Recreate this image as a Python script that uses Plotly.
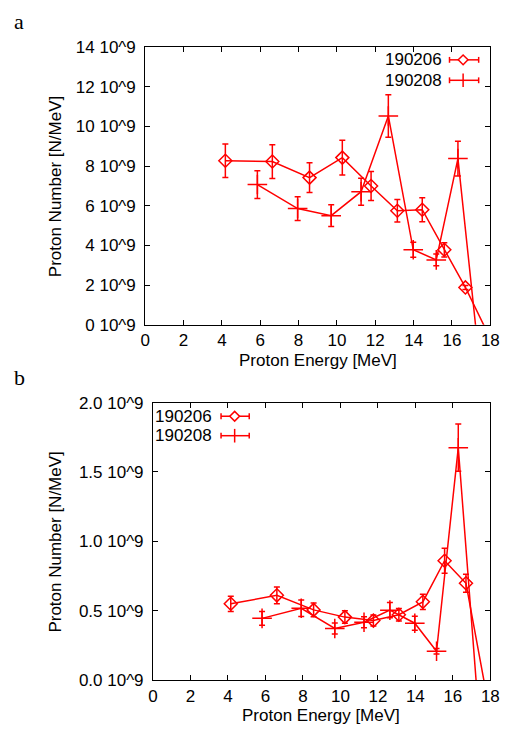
import plotly.graph_objects as go

# the page body has an 8px margin: figure pixel = window pixel - 8
W, H = 503, 723
OFF = 8
RED = "#ff0000"
FONT = "Liberation Sans, Arial, sans-serif"
FS = 17

# ---- panel a (units of 10^9 N/MeV) ----
a_e_190206 = [4.18, 6.63, 8.57, 10.28, 11.78, 13.15, 14.45, 15.6, 16.7, 17.9]
a_n_190206 = [8.27, 8.23, 7.42, 8.43, 7.0, 5.75, 5.8, 3.78, 1.88, -0.5]
a_err_190206 = [0.85, 0.85, 0.75, 0.88, 0.73, 0.57, 0.6, 0.36, 0.1, 0]

a_e_190208 = [5.85, 7.95, 9.7, 11.26, 12.68, 13.98, 15.18, 16.31, 17.5]
a_n_190208 = [7.07, 5.86, 5.5, 6.71, 10.53, 3.78, 3.27, 8.38, -2.5]
a_err_190208 = [0.7, 0.6, 0.55, 0.68, 1.07, 0.38, 0.3, 0.88, 0]

a_yticks = [0, 2, 4, 6, 8, 10, 12, 14]
a_yticktext = ["0 10^9", "2 10^9", "4 10^9", "6 10^9", "8 10^9",
               "10 10^9", "12 10^9", "14 10^9"]

# ---- panel b ----
b_e_190206 = [4.15, 6.61, 8.57, 10.24, 11.76, 13.12, 14.4, 15.56, 16.7, 17.9]
b_n_190206 = [0.55, 0.611, 0.506, 0.454, 0.429, 0.471, 0.564, 0.86, 0.698, -0.18]
b_err_190206 = [0.055, 0.06, 0.05, 0.045, 0.04, 0.045, 0.055, 0.09, 0.065, 0]

b_e_190208 = [5.82, 7.91, 9.7, 11.26, 12.64, 13.97, 15.13, 16.29, 17.5]
b_n_190208 = [0.445, 0.518, 0.372, 0.417, 0.504, 0.41, 0.208, 1.675, -0.46]
b_err_190208 = [0.05, 0.06, 0.04, 0.04, 0.055, 0.05, 0.02, 0.17, 0]

b_yticks = [0, 0.5, 1.0, 1.5, 2.0]
b_yticktext = ["0.0 10^9", "0.5 10^9", "1.0 10^9", "1.5 10^9", "2.0 10^9"]

x_ticks = list(range(0, 19, 2))


def px(x):
    # window pixel -> paper fraction
    return (x - OFF) / W


def py(y):
    return 1 - (y - OFF) / H


def series(x, y, err, symbol, size, xa, ya):
    return go.Scatter(
        x=x, y=y, mode="lines+markers", xaxis=xa, yaxis=ya,
        line=dict(color=RED, width=1.5),
        marker=dict(symbol=symbol, size=size, color=RED,
                    line=dict(color=RED, width=1.5)),
        error_y=dict(type="data", array=err, color=RED, thickness=1.5, width=3),
        showlegend=False, hoverinfo="x+y",
    )


fig = go.Figure()
fig.add_trace(series(a_e_190206, a_n_190206, a_err_190206, "diamond-open", 10, "x", "y"))
fig.add_trace(series(a_e_190208, a_n_190208, a_err_190208, "cross-thin", 14, "x", "y"))
fig.add_trace(series(b_e_190206, b_n_190206, b_err_190206, "diamond-open", 10, "x2", "y2"))
fig.add_trace(series(b_e_190208, b_n_190208, b_err_190208, "cross-thin", 14, "x2", "y2"))

axis_common = dict(
    showline=True, linecolor="black", linewidth=1, mirror="ticks",
    ticks="inside", ticklen=5, tickcolor="black", showgrid=False,
    zeroline=False, tickfont=dict(family=FONT, size=FS, color="black"),
)

fig.update_layout(
    width=W, height=H,
    margin=dict(l=0, r=0, t=0, b=0),
    paper_bgcolor="white", plot_bgcolor="white",
    font=dict(family=FONT, size=FS, color="black"),
    xaxis=dict(domain=[px(144), px(499)], range=[0, 18], tickvals=x_ticks,
               anchor="y", ticklabelstandoff=0, **axis_common),
    yaxis=dict(domain=[py(324), py(39)], range=[0, 14], tickvals=a_yticks,
               ticktext=a_yticktext, anchor="x", ticklabelstandoff=5, **axis_common),
    xaxis2=dict(domain=[px(152), px(499)], range=[0, 18], tickvals=x_ticks,
                anchor="y2", ticklabelstandoff=0, **axis_common),
    yaxis2=dict(domain=[py(689), py(404)], range=[0, 2.0], tickvals=b_yticks,
                ticktext=b_yticktext, anchor="x2", ticklabelstandoff=5, **axis_common),
)

annotations = []
shapes = []

# panel letters
for letter, (lx, ly) in {"a": (14, 13), "b": (15, 378)}.items():
    annotations.append(dict(text=letter, x=px(lx), y=py(ly), xref="paper", yref="paper",
                            showarrow=False, xanchor="center", yanchor="middle",
                            font=dict(family="Liberation Serif, Times New Roman, serif",
                                      size=22, color="black")))

# axis titles
for cx, cy, txt, ang in [(322, 361, "Proton Energy [MeV]", 0),
                         (325, 725, "Proton Energy [MeV]", 0),
                         (52, 182, "Proton Number [N/MeV]", -90),
                         (52, 547, "Proton Number [N/MeV]", -90)]:
    annotations.append(dict(text=txt, x=px(cx), y=py(cy), xref="paper", yref="paper",
                            showarrow=False, xanchor="center", yanchor="middle",
                            textangle=ang, font=dict(family=FONT, size=FS, color="black")))


def legend_entry(label, text_right, cy, x0, x1, mx, kind):
    annotations.append(dict(text=label, x=px(text_right), y=py(cy),
                            xref="paper", yref="paper", showarrow=False,
                            xanchor="right", yanchor="middle",
                            font=dict(family=FONT, size=FS, color="black")))
    line = dict(color=RED, width=1.5)
    shapes.append(dict(type="line", xref="paper", yref="paper",
                       x0=px(x0), x1=px(x1), y0=py(cy), y1=py(cy), line=line))
    for ex in (x0, x1):
        shapes.append(dict(type="line", xref="paper", yref="paper",
                           x0=px(ex), x1=px(ex), y0=py(cy - 3), y1=py(cy + 3), line=line))
    if kind == "diamond":
        r = 5
        path = (f"M {px(mx - r)},{py(cy)} L {px(mx)},{py(cy - r)} "
                f"L {px(mx + r)},{py(cy)} L {px(mx)},{py(cy + r)} Z")
        shapes.append(dict(type="path", xref="paper", yref="paper", path=path,
                           line=line, fillcolor="white"))
    else:
        r = 7
        shapes.append(dict(type="line", xref="paper", yref="paper",
                           x0=px(mx), x1=px(mx), y0=py(cy - r), y1=py(cy + r), line=line))


legend_entry("190206", 451, 52, 457, 487, 471, "diamond")
legend_entry("190208", 451, 73, 457, 487, 471, "plus")
legend_entry("190206", 215, 418, 222, 251, 236, "diamond")
legend_entry("190208", 215, 438, 222, 251, 236, "plus")

fig.update_layout(annotations=annotations, shapes=shapes)

fig.write_html("out.html")
